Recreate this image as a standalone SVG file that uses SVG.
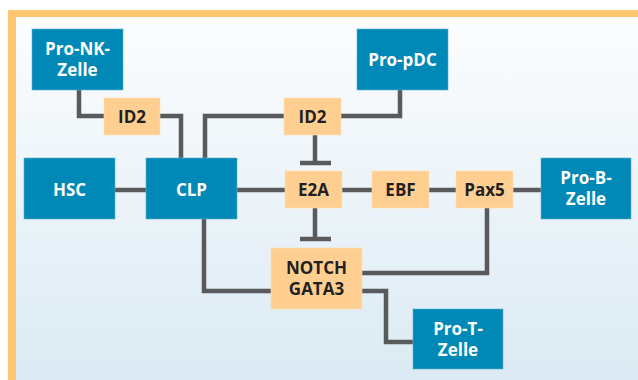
<svg xmlns="http://www.w3.org/2000/svg" width="638" height="380" viewBox="0 0 638 380">
<defs>
<linearGradient id="bg" x1="0" y1="0" x2="0" y2="1">
<stop offset="0" stop-color="#fcfdfe"/>
<stop offset="1" stop-color="#dbeaf3"/>
</linearGradient>
<style>
.blue{fill:#0088b6;stroke:#5fb3d3;stroke-width:0.6}
.or{fill:#fecf91;stroke:#fde0b4;stroke-width:0.6}
.wt{fill:#ffffff;font-family:"Open Sans","Noto Sans",sans-serif;font-weight:bold;font-size:17px;text-anchor:middle}
.dt{fill:#231f20;font-family:"Open Sans","Noto Sans",sans-serif;font-weight:bold;font-size:17px;text-anchor:middle}
.ln{fill:none;stroke:#595a5c;stroke-width:4.5;stroke-linejoin:miter;stroke-linecap:butt}
</style>
</defs>
<rect x="0" y="0" width="638" height="380" fill="#ffffff"/>
<rect x="8" y="10" width="630" height="370" fill="#fec76f"/>
<rect x="16" y="17" width="622" height="363" fill="url(#bg)"/>
<g id="connectors">
<polyline class="ln" points="79,90 79,116 104,116"/>
<polyline class="ln" points="160,116 181,116 181,159"/>
<polyline class="ln" points="205,159 205,116 284,116"/>
<polyline class="ln" points="341,116 400,116 400,90"/>
<line class="ln" x1="315" y1="135" x2="315" y2="163"/>
<line class="ln" x1="300" y1="163" x2="331" y2="163"/>
<line class="ln" x1="115" y1="190" x2="146" y2="190"/>
<line class="ln" x1="237" y1="190" x2="285" y2="190"/>
<line class="ln" x1="342" y1="190" x2="372" y2="190"/>
<line class="ln" x1="429" y1="190" x2="456" y2="190"/>
<line class="ln" x1="513" y1="190" x2="541" y2="190"/>
<line class="ln" x1="315" y1="208" x2="315" y2="239"/>
<line class="ln" x1="300" y1="239" x2="331" y2="239"/>
<polyline class="ln" points="204,219 204,291 271,291"/>
<polyline class="ln" points="362,273 487,273 487,208"/>
<polyline class="ln" points="362,291 386,291 386,342 413,342"/>
</g>
<g id="pro-nk"><rect class="blue" x="32" y="29" width="91" height="61"/><text class="wt" x="77.5" y="55">Pro-NK-</text><text class="wt" x="77.5" y="76">Zelle</text></g>
<g id="id2-left"><rect class="or" x="104" y="98" width="56" height="37"/><text class="dt" x="132" y="123">ID2</text></g>
<g id="id2-mid"><rect class="or" x="284" y="98" width="57" height="37"/><text class="dt" x="312.5" y="123">ID2</text></g>
<g id="pro-pdc"><rect class="blue" x="357" y="29" width="91" height="61"/><text class="wt" x="402.5" y="66">Pro-pDC</text></g>
<g id="hsc"><rect class="blue" x="24" y="158" width="91" height="61"/><text class="wt" x="69.5" y="196">HSC</text></g>
<g id="clp"><rect class="blue" x="146" y="158" width="91" height="61"/><text class="wt" x="191.5" y="196">CLP</text></g>
<g id="e2a"><rect class="or" x="285" y="171" width="57" height="37"/><text class="dt" x="313.5" y="196">E2A</text></g>
<g id="ebf"><rect class="or" x="372" y="171" width="57" height="37"/><text class="dt" x="400.5" y="196">EBF</text></g>
<g id="pax5"><rect class="or" x="456" y="171" width="57" height="37"/><text class="dt" x="484.5" y="196">Pax5</text></g>
<g id="pro-b"><rect class="blue" x="541" y="158" width="90" height="61"/><text class="wt" x="586" y="184">Pro-B-</text><text class="wt" x="586" y="205">Zelle</text></g>
<g id="notch"><rect class="or" x="271" y="248" width="91" height="61"/><text class="dt" x="316.5" y="274">NOTCH</text><text class="dt" x="316.5" y="295">GATA3</text></g>
<g id="pro-t"><rect class="blue" x="413" y="309" width="90" height="60"/><text class="wt" x="458" y="335">Pro-T-</text><text class="wt" x="458" y="356">Zelle</text></g>
</svg>
